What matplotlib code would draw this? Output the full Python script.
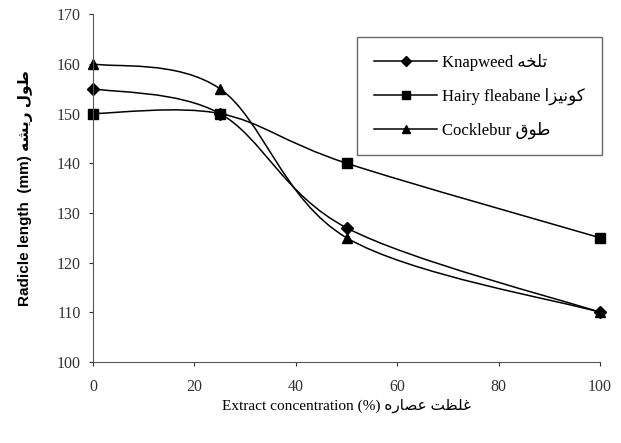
import matplotlib.pyplot as plt
import numpy as np
from matplotlib.path import Path
from matplotlib.patches import PathPatch
from matplotlib.lines import Line2D

plt.rcParams['font.family'] = ['Liberation Serif', 'DejaVu Sans']

# data
conc = [0, 25, 50, 100]
knapweed = [155, 150, 127, 110]
fleabane = [150, 150, 140, 125]
cocklebur = [160, 155, 125, 110]

# Persian labels written in presentation forms, visual order
fa_knapweed = "\uFEEA\uFEA8\uFEE0\uFE97"
fa_fleabane = "\uFE8D\uFEB0\uFBFF\uFEE7\uFEEE\uFB90"
fa_cocklebur = "\uFED5\uFEEE\uFEC3"
fa_xlabel = "\uFEE9\uFEAD\uFE8E\uFEBC\uFECB \uFE96\uFEC8\uFEE0\uFECF"
fa_ylabel = "\uFEEA\uFEB8\uFBFE\uFEAD \uFEDD\uFEEE\uFEC3"

labels = ["Knapweed " + fa_knapweed, "Hairy fleabane " + fa_fleabane, "Cocklebur " + fa_cocklebur]
markers = ["D", "s", "^"]
msizes = [6, 7, 7]


def smooth_path(x, y):
    # Excel-style smoothed line: cubic bezier through the points
    pts = np.column_stack([x, y]).astype(float)
    n = len(pts)
    verts = [pts[0]]
    codes = [Path.MOVETO]
    for i in range(n - 1):
        p0 = pts[i - 1] if i > 0 else pts[i]
        p1 = pts[i]
        p2 = pts[i + 1]
        p3 = pts[i + 2] if i + 2 < n else pts[i + 1]
        c1 = p1 + (p2 - p0) / 6
        c2 = p2 - (p3 - p1) / 6
        verts += [c1, c2, p2]
        codes += [Path.CURVE4] * 3
    return Path(verts, codes)


fig = plt.figure(figsize=(6.21, 4.43), dpi=100)
ax = fig.add_axes([0.150, 0.183, 0.816, 0.785])

for ys, lab, m, ms in zip([knapweed, fleabane, cocklebur], labels, markers, msizes):
    ax.add_patch(PathPatch(smooth_path(conc, ys), facecolor="none", edgecolor="black", lw=1.1))
    ax.plot(conc, ys, linestyle="none", marker=m, ms=ms, color="black", clip_on=False)

ax.set_xlim(0, 100)
ax.set_ylim(100, 170)
ax.set_xticks(range(0, 101, 20))
ax.set_yticks(range(100, 171, 10))
ax.spines["top"].set_visible(False)
ax.spines["right"].set_visible(False)
ax.spines["left"].set_color("#555555")
ax.spines["bottom"].set_color("#555555")
ax.tick_params(labelsize=11.5, length=3, width=0.8, colors="#333333", pad=6)
ax.tick_params(axis="x", pad=9)

ax.set_xlabel("Extract concentration (%) " + fa_xlabel, fontsize=11, labelpad=3)
ax.set_ylabel("Radicle length  (mm) " + fa_ylabel, fontsize=11, fontweight="bold",
              family=["Liberation Sans", "DejaVu Sans"], labelpad=17)

handles = [Line2D([], [], color="black", lw=1.1, marker=m, ms=ms - 1) for m, ms in zip(markers, msizes)]
leg = ax.legend(handles, labels, loc="upper right", bbox_to_anchor=(1.02, 0.958), fontsize=12,
                frameon=True, fancybox=False, edgecolor="#444444", handlelength=3.8,
                handletextpad=0.3, borderpad=1.0, labelspacing=1.0)
leg.get_frame().set_linewidth(1.0)

plt.savefig("out.png", dpi=100)
plt.close()
